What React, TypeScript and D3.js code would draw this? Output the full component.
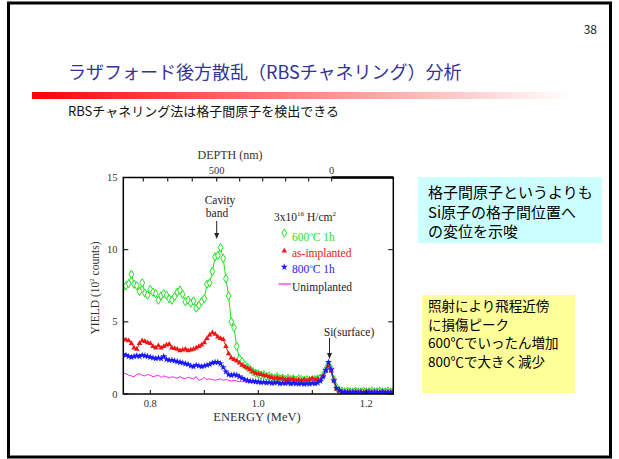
import React from "react";
import * as d3 from "d3";

const ENERGY = [
  0.75, 0.755, 0.76, 0.765, 0.77, 0.775, 0.78, 0.785, 0.79, 0.795,
  0.8, 0.805, 0.81, 0.815, 0.82, 0.825, 0.83, 0.835, 0.84, 0.845,
  0.85, 0.855, 0.86, 0.865, 0.87, 0.875, 0.88, 0.885, 0.89, 0.895,
  0.9, 0.905, 0.91, 0.915, 0.92, 0.925, 0.93, 0.935, 0.94, 0.945,
  0.95, 0.955, 0.96, 0.965, 0.97, 0.975, 0.98, 0.985, 0.99, 0.995,
  1.0, 1.005, 1.01, 1.015, 1.02, 1.025, 1.03, 1.035, 1.04, 1.045,
  1.05, 1.055, 1.06, 1.065, 1.07, 1.075, 1.08, 1.085, 1.09, 1.095,
  1.1, 1.105, 1.11, 1.115, 1.12, 1.125, 1.13, 1.135, 1.14, 1.145,
  1.15, 1.155, 1.16, 1.165, 1.17, 1.175, 1.18, 1.185, 1.19, 1.195,
  1.2, 1.205, 1.21, 1.215, 1.22, 1.225, 1.23, 1.235, 1.24, 1.245, 1.25,
];

const ANNEAL_600 = [
  7.4, 7.5, 7.65, 8.3, 7.6, 7.5, 7.1, 7.7, 7.0, 6.85,
  7.25, 7.05, 6.95, 6.5, 6.8, 6.95, 6.85, 6.6, 6.5, 6.75,
  7.05, 7.2, 6.9, 6.4, 6.5, 6.3, 6.45, 5.95, 6.15, 6.4,
  6.6, 7.6, 7.7, 8.5, 9.5, 9.6, 10.15, 9.4, 8.0, 6.8,
  5.0, 4.6, 3.3, 2.45, 2.25, 2.0, 1.85, 1.7, 1.55, 1.45,
  1.4, 1.3, 1.35, 1.2, 1.25, 1.15, 1.1, 1.2, 1.05, 1.1,
  1.0, 1.1, 1.0, 1.05, 0.95, 1.05, 1.0, 0.95, 1.0, 0.95,
  0.95, 1.0, 1.05, 1.1, 1.3, 1.7, 2.05, 1.75, 1.0, 0.45,
  0.25, 0.2, 0.15, 0.2, 0.15, 0.15, 0.2, 0.15, 0.15, 0.2,
  0.15, 0.15, 0.2, 0.15, 0.15, 0.2, 0.15, 0.15, 0.2, 0.15, 0.15,
];

const AS_IMPLANTED = [
  3.8, 3.75, 3.7, 3.5, 3.2, 3.1, 3.5, 3.7, 3.65, 3.55,
  3.5, 3.3, 3.2, 3.35, 3.2, 3.3, 3.4, 3.45, 3.2, 3.15,
  3.1, 3.0, 3.05, 3.1, 3.0, 3.05, 3.1, 3.2, 3.3, 3.4,
  3.55, 3.85, 4.1, 4.25, 4.15, 3.95, 3.85, 3.78, 3.3, 2.8,
  2.5, 2.4, 2.3, 2.15, 2.0, 1.9, 1.8, 1.7, 1.55, 1.45,
  1.4, 1.35, 1.3, 1.25, 1.2, 1.15, 1.1, 1.15, 1.05, 1.1,
  1.0, 1.05, 1.0, 1.05, 0.95, 1.0, 0.95, 1.0, 0.95, 1.0,
  1.1, 1.0, 1.05, 1.0, 1.25, 1.6, 1.95, 1.6, 0.9, 0.35,
  0.2, 0.15, 0.15, 0.12, 0.15, 0.12, 0.15, 0.12, 0.15, 0.12,
  0.15, 0.12, 0.15, 0.12, 0.15, 0.12, 0.15, 0.12, 0.15, 0.12, 0.15,
];

const ANNEAL_800 = [
  2.75, 2.7, 2.6, 2.55, 2.6, 2.65, 2.6, 2.7, 2.65, 2.6,
  2.55, 2.5, 2.45, 2.5, 2.45, 2.6, 2.4, 2.35, 2.35, 2.3,
  2.25, 2.2, 2.15, 2.1, 2.05, 1.95, 1.9, 2.0, 1.95, 1.9,
  1.95, 2.0, 2.05, 2.15, 2.2, 2.2, 2.1, 1.85, 1.55, 1.35,
  1.3, 1.35, 1.3, 1.2, 1.1, 1.0, 0.95, 0.9, 0.9, 0.85,
  0.85, 0.8, 0.82, 0.78, 0.8, 0.75, 0.78, 0.8, 0.72, 0.76,
  0.74, 0.78, 0.7, 0.75, 0.72, 0.7, 0.74, 0.68, 0.72, 0.7,
  0.75, 0.72, 0.78, 0.9, 1.2, 1.65, 2.2, 1.7, 0.95, 0.4,
  0.25, 0.15, 0.12, 0.15, 0.1, 0.12, 0.15, 0.1, 0.12, 0.1,
  0.12, 0.15, 0.1, 0.12, 0.1, 0.12, 0.15, 0.1, 0.12, 0.1, 0.12,
];

const UNIMPLANTED = [
  1.45, 1.4, 1.3, 1.25, 1.2, 1.35, 1.4, 1.3, 1.25, 1.35,
  1.3, 1.2, 1.25, 1.3, 1.15, 1.25, 1.2, 1.1, 1.2, 1.15,
  1.1, 1.2, 1.1, 1.05, 1.15, 1.1, 1.05, 1.2, 0.95, 1.0,
  1.15, 1.0, 1.05, 1.0, 0.95, 1.0, 1.05, 0.95, 1.0, 0.95,
  0.9, 0.95, 0.9, 0.85, 0.9, 0.85, 0.8, 0.8, 0.78, 0.8,
  0.76, 0.78, 0.75, 0.76, 0.74, 0.75, 0.73, 0.75, 0.72, 0.74,
  0.72, 0.73, 0.7, 0.72, 0.7, 0.71, 0.7, 0.72, 0.7, 0.71,
  0.72, 0.74, 0.78, 0.85, 1.1, 1.5, 1.9, 1.5, 0.8, 0.3,
  0.12, 0.1, 0.1, 0.1, 0.1, 0.1, 0.1, 0.1, 0.1, 0.1,
  0.1, 0.1, 0.1, 0.1, 0.1, 0.1, 0.1, 0.1, 0.1, 0.1, 0.1,
];

const ENERGY_TICKS = [0.8, 0.9, 1.0, 1.1, 1.2];
const ENERGY_LABELS = ["0.8", "", "1.0", "", "1.2"];
const YIELD_TICKS = [0, 5, 10, 15];
const DEPTH_TICKS = [0, 100, 200, 300, 400, 500, 600, 700, 800];
const DEPTH_LABELED = [0, 500];
// energy (MeV) at which depth 0 / 500 / 800 nm appear on the top axis
const DEPTH_ENERGY_DOMAIN = [0, 500, 800];
const DEPTH_ENERGY_RANGE = [1.1359, 0.923, 0.787];

const GREEN = "#22e022";
const RED = "#ee1515";
const BLUE = "#1a1aff";
const MAGENTA = "#ff22ee";
const SERIF = "'Liberation Serif', 'DejaVu Serif', serif";
const JP = "'Noto Sans CJK JP', 'Noto Sans', sans-serif";

export default function App() {
  const x = d3.scaleLinear().domain([0.75, 1.25]).range([123.3, 393.3]);
  const y = d3.scaleLinear().domain([0, 15]).range([394, 177.5]);
  const depthE = d3.scaleLinear().domain(DEPTH_ENERGY_DOMAIN).range(DEPTH_ENERGY_RANGE);
  const left = x(0.75), right = x(1.25), top = y(15), bottom = y(0);

  const line = (vals: number[]) =>
    d3.line<number>().x((_, i) => x(ENERGY[i])).y((v) => y(v))(vals) || "";

  const diamond = d3.symbol().type(d3.symbolDiamond).size(20)() || "";
  const tri = d3.symbol().type(d3.symbolTriangle).size(13)() || "";
  const star = d3.symbol().type(d3.symbolStar).size(15)() || "";

  const markers = (vals: number[], path: string, fill: string, stroke: string, sw: number) =>
    vals.map((v, i) => (
      <path key={i} d={path} transform={`translate(${x(ENERGY[i])},${y(v)})`} fill={fill} stroke={stroke} strokeWidth={sw} />
    ));

  const arrow = (ax: number, y1: number, y2: number) => (
    <g>
      <line x1={ax} x2={ax} y1={y1} y2={y2 - 4} stroke="#222" strokeWidth={1} />
      <path d={`M${ax - 2.5},${y2 - 6} L${ax + 2.5},${y2 - 6} L${ax},${y2} Z`} fill="#222" />
    </g>
  );

  return (
    <svg width={619} height={459} style={{ position: "absolute", left: 0, top: 0, background: "#fff" }}>
      <defs>
        <linearGradient id="bar" x1="0" x2="1" y1="0" y2="0">
          <stop offset="0" stopColor="#ff0000" />
          <stop offset="0.35" stopColor="#ff6060" />
          <stop offset="1" stopColor="#ffffff" />
        </linearGradient>
        <clipPath id="plot">
          <rect x={left} y={top} width={right - left} height={bottom - top} />
        </clipPath>
      </defs>
      <rect x={8.5} y={3} width={602} height={454} fill="#fff" stroke="#000" strokeWidth={3} />

      <text x={597} y={34} fontFamily={JP} fontSize={12} textAnchor="end" fill="#222">38</text>
      <text x={68} y={79} fontFamily={JP} fontSize={18} fill="#333399">ラザフォード後方散乱（RBSチャネリング）分析</text>
      <rect x={32} y={92} width={540} height={7} fill="url(#bar)" />
      <text x={68} y={116} fontFamily={JP} fontSize={13} fill="#111">RBSチャネリング法は格子間原子を検出できる</text>

      {/* series */}
      <g clipPath="url(#plot)">
        <path d={line(UNIMPLANTED)} fill="none" stroke={MAGENTA} strokeWidth={1} />
        <path d={line(ANNEAL_600)} fill="none" stroke={GREEN} strokeWidth={1} />
        {markers(ANNEAL_600, diamond, "#fff", GREEN, 1)}
        <path d={line(AS_IMPLANTED)} fill="none" stroke={RED} strokeWidth={1} />
        {markers(AS_IMPLANTED, tri, RED, "none", 0)}
        <path d={line(ANNEAL_800)} fill="none" stroke={BLUE} strokeWidth={1} />
        {markers(ANNEAL_800, star, BLUE, "none", 0)}
      </g>

      {/* axes frame */}
      <rect x={left} y={top} width={right - left} height={bottom - top} fill="none" stroke="#000" strokeWidth={1.5} />
      <line x1={x(depthE(0))} x2={right} y1={top} y2={top} stroke="#000" strokeWidth={2.5} />

      {ENERGY_TICKS.map((t, i) => (
        <g key={t}>
          <line x1={x(t)} x2={x(t)} y1={bottom} y2={bottom - 4} stroke="#000" strokeWidth={1} />
          <text x={x(t)} y={407} fontFamily={SERIF} fontSize={10.5} textAnchor="middle" fill="#333">{ENERGY_LABELS[i]}</text>
        </g>
      ))}
      {YIELD_TICKS.map((t) => (
        <g key={t}>
          <line x1={left} x2={left + 5} y1={y(t)} y2={y(t)} stroke="#000" strokeWidth={1} />
          <line x1={right} x2={right - 5} y1={y(t)} y2={y(t)} stroke="#000" strokeWidth={1} />
          <text x={117.5} y={y(t) + 3.5} fontFamily={SERIF} fontSize={10.5} textAnchor="end" fill="#333">{t}</text>
        </g>
      ))}
      {DEPTH_TICKS.map((t) => (
        <line key={t} x1={x(depthE(t))} x2={x(depthE(t))} y1={top} y2={top + 4} stroke="#000" strokeWidth={1} />
      ))}
      {DEPTH_LABELED.map((t) => (
        <text key={t} x={x(depthE(t))} y={173.5} fontFamily={SERIF} fontSize={10.5} textAnchor="middle" fill="#333">{t}</text>
      ))}

      <text x={230} y={159} fontFamily={SERIF} fontSize={12} textAnchor="middle" fill="#333">DEPTH (nm)</text>
      <text x={257} y={421} fontFamily={SERIF} fontSize={12.5} textAnchor="middle" fill="#333">ENERGY (MeV)</text>
      <text transform="translate(99,288) rotate(-90)" fontFamily={SERIF} fontSize={11.5} textAnchor="middle" fill="#333">
        YIELD (10<tspan fontSize={7} dy={-5}>2</tspan><tspan dy={5}> counts)</tspan>
      </text>

      {/* annotations */}
      <text x={220} y={204} fontFamily={SERIF} fontSize={11.5} textAnchor="middle" fill="#222">Cavity</text>
      <text x={217} y={216.5} fontFamily={SERIF} fontSize={11.5} textAnchor="middle" fill="#222">band</text>
      {arrow(216.7, 221, 239)}
      <text x={349} y={335.5} fontFamily={SERIF} fontSize={11.5} textAnchor="middle" fill="#222">Si(surface)</text>
      {arrow(329.5, 338, 359)}

      {/* legend */}
      <text x={274} y={220.5} fontFamily={SERIF} fontSize={11.5} fill="#222">
        3x10<tspan fontSize={7} dy={-5}>16</tspan><tspan dy={5}> H/cm</tspan><tspan fontSize={7} dy={-5}>2</tspan>
      </text>
      <path d={diamond} transform="translate(284.3,233)" fill="#fff" stroke={GREEN} strokeWidth={1} />
      <text x={292} y={240.5} fontFamily={SERIF} fontSize={11.5} fill={GREEN}>
        600<tspan fontSize={7} dy={-5}>o</tspan><tspan dy={5}>C 1h</tspan>
      </text>
      <path d={tri} transform="translate(284.3,251)" fill={RED} />
      <text x={292} y={256.5} fontFamily={SERIF} fontSize={11.5} fill={RED}>as-implanted</text>
      <path d={star} transform="translate(284.3,267)" fill={BLUE} />
      <text x={292} y={272.5} fontFamily={SERIF} fontSize={11.5} fill={BLUE}>
        800<tspan fontSize={7} dy={-5}>o</tspan><tspan dy={5}>C 1h</tspan>
      </text>
      <line x1={278.5} x2={291} y1={284} y2={284} stroke={MAGENTA} strokeWidth={1.2} />
      <text x={292} y={290.5} fontFamily={SERIF} fontSize={11.5} fill="#222">Unimplanted</text>

      {/* text boxes */}
      <rect x={418} y={177} width={184} height={66} fill="#ccffff" />
      <text fontFamily={JP} fontSize={15} fill="#000">
        <tspan x={428} y={198}>格子間原子というよりも</tspan>
        <tspan x={428} y={218}>Si原子の格子間位置へ</tspan>
        <tspan x={428} y={237}>の変位を示唆</tspan>
      </text>
      <rect x={422} y={295} width={153} height={98} fill="#ffff99" />
      <text fontFamily={JP} fontSize={13.5} fill="#000">
        <tspan x={428} y={311}>照射により飛程近傍</tspan>
        <tspan x={428} y={329.5}>に損傷ピーク</tspan>
        <tspan x={428} y={348}>600℃でいったん増加</tspan>
        <tspan x={428} y={366.5}>800℃で大きく減少</tspan>
      </text>
    </svg>
  );
}
